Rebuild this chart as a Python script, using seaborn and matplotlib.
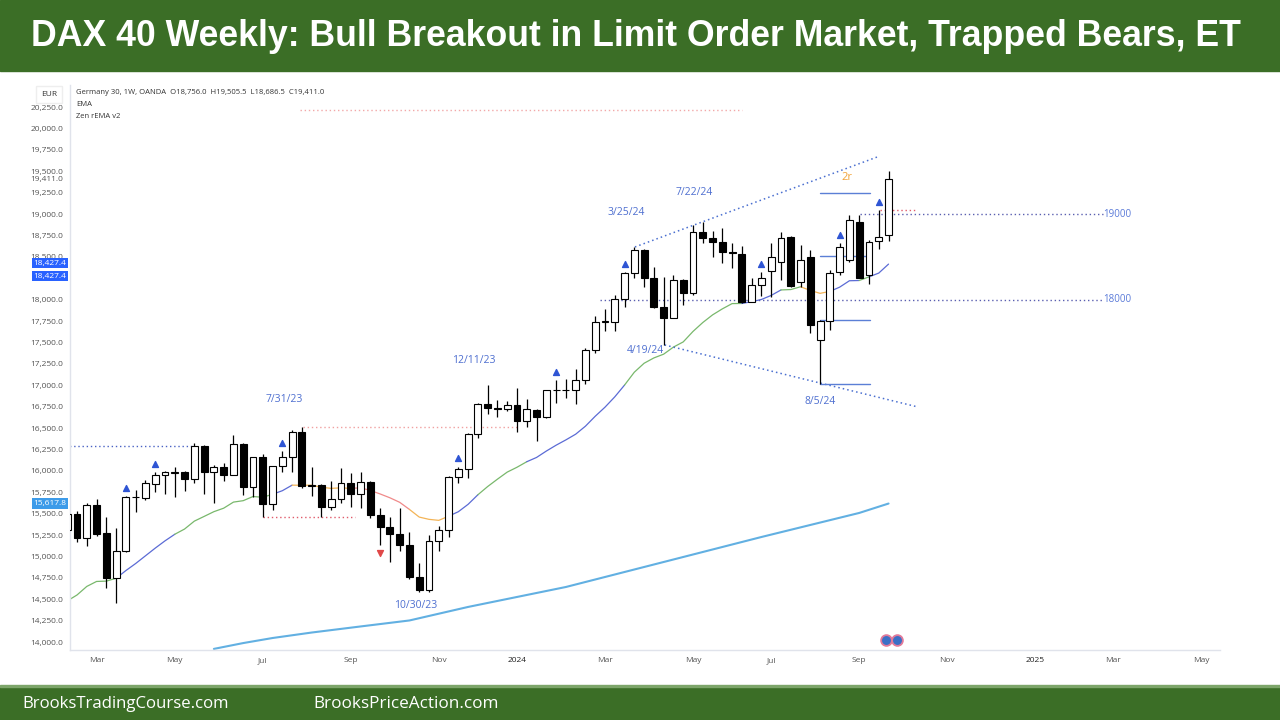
import numpy as np
import pandas as pd
import seaborn as sns
import matplotlib.pyplot as plt
from matplotlib.patches import Rectangle

sns.set_theme(style='white')
plt.rcParams['font.family'] = ['Open Sans', 'DejaVu Sans']

# Germany 30 (OANDA) weekly bars, first bar = week of 2023-02-13
week_start = '2023-02-13'
opens = [15310, 15490, 15210, 15600, 15270, 14750, 15060, 15690, 15680, 15850,
         15950, 15980, 15990, 15900, 16290, 15990, 16050, 15950, 16310, 15810,
         16160, 15610, 16060, 16160, 16450, 15820, 15840, 15580, 15670, 15860,
         15730, 15870, 15480, 15340, 15260, 15130, 14760, 14610, 15180, 15310,
         15930, 16020, 16430, 16780, 16730, 16720, 16770, 16580, 16710, 16630,
         16940, 16940, 16950, 17060, 17410, 17740, 17740, 18010, 18310, 18580,
         18250, 17910, 17780, 18230, 18080, 18790, 18720, 18670, 18560, 18530,
         17970, 18170, 18330, 18440, 18730, 18210, 18500, 17530, 17750, 18320,
         18460, 18910, 18290, 18690, 18756.0]
highs = [15560, 15530, 15620, 15670, 15460, 15330, 15710, 15780, 15890, 15990,
         16000, 16050, 16000, 16330, 16300, 16070, 16090, 16420, 16320, 16160,
         16200, 16060, 16230, 16480, 16510, 16050, 15850, 15880, 16030, 15980,
         15990, 15880, 15570, 15460, 15570, 15290, 14920, 15250, 15360, 15940,
         16050, 16440, 16790, 17000, 16830, 16820, 16970, 16840, 16720, 16950,
         17060, 17070, 17190, 17440, 17810, 17890, 18050, 18320, 18620, 18590,
         18380, 18260, 18290, 18240, 18870, 18910, 18800, 18840, 18660, 18630,
         18250, 18320, 18660, 18790, 18740, 18640, 18580, 17760, 18350, 18660,
         18990, 18990, 18700, 19050, 19505.5]
lows = [15250, 15170, 15120, 15240, 14630, 14460, 15050, 15520, 15660, 15750,
        15730, 15700, 15770, 15860, 15730, 15630, 15880, 15950, 15720, 15700,
        15460, 15540, 15990, 15990, 15800, 15710, 15460, 15540, 15620, 15580,
        15570, 15450, 15130, 14930, 15060, 14740, 14580, 14590, 15060, 15230,
        15860, 15920, 16380, 16660, 16630, 16700, 16450, 16510, 16350, 16620,
        16790, 16850, 16780, 17010, 17380, 17630, 17630, 17910, 18250, 18150,
        17900, 17470, 17780, 17940, 18050, 18660, 18500, 18430, 18370, 17960,
        17970, 18040, 18030, 18230, 18150, 18150, 17610, 17010, 17640, 18290,
        18440, 18250, 18180, 18590, 18686.5]
closes = [15500, 15210, 15600, 15260, 14750, 15060, 15690, 15700, 15860, 15950,
          15990, 15990, 15900, 16290, 15990, 16050, 15950, 16310, 15810, 16160,
          15610, 16060, 16160, 16450, 15820, 15840, 15580, 15670, 15860, 15730,
          15870, 15480, 15340, 15260, 15130, 14760, 14610, 15180, 15310, 15930,
          16020, 16430, 16780, 16730, 16720, 16770, 16580, 16720, 16630, 16940,
          16950, 16950, 17060, 17410, 17740, 17750, 18010, 18310, 18580, 18250,
          17910, 17780, 18230, 18080, 18790, 18720, 18670, 18560, 18540, 17970,
          18170, 18250, 18500, 18720, 18160, 18460, 17700, 17750, 18310, 18620,
          18930, 18250, 18670, 18730, 19411.0]

# 20 EMA value on the first bar
ema_start = 14480
# slow average (light blue), read at a few weeks
long_ma_weeks = [15, 18, 21, 25, 30, 35, 41, 51, 61, 71, 81, 84]
long_ma_values = [13920, 13988, 14047, 14111, 14182, 14252, 14410, 14643, 14935, 15227, 15508, 15617.8]

# colour of the Zen rEMA between bar indices
ema_breaks = [0, 5, 11, 21, 23, 29, 35, 39, 42, 47, 57, 69, 73, 75, 78, 81, 82, 84]
ema_states = ['green', 'blue', 'green', 'blue', 'orange', 'red', 'orange', 'blue', 'green',
              'blue', 'green', 'blue', 'green', 'orange', 'blue', 'green', 'blue']

signal_up = [6, 9, 22, 40, 50, 57, 71, 79, 83]
signal_down = [32]

date_labels = ['7/31/23', '10/30/23', '12/11/23', '3/25/24', '4/19/24', '7/22/24', '8/5/24']
date_label_x = [22.2, 35.6, 41.6, 57.2, 59.1, 64.1, 77.0]
date_label_y = [16839, 14421, 17283, 19012, 17400, 19257, 16804]

level_labels = ['19000', '18000']
level_values = [19000, 18000]

mm_levels = [19245, 18509, 17762, 17014]   # measured move lines from the 8/5 low

ema_colours = {'green': '#79b86c', 'blue': '#5b6bd5', 'orange': '#f3b457', 'red': '#f08a8a'}

# ---- figure ----
fig = plt.figure(figsize=(12.8, 7.2), dpi=100)
ax = fig.add_axes([70 / 1280, 70 / 720, 1150 / 1280, 565 / 720])

df = pd.DataFrame({'open': opens, 'high': highs, 'low': lows, 'close': closes})
df['x'] = np.arange(len(df))
up = df['close'] >= df['open']

ax.vlines(df['x'], df['low'], df['high'], color='black', lw=0.9, zorder=3)
ax.bar(df['x'][up], (df['close'] - df['open'])[up], bottom=df['open'][up], width=0.7,
       color='white', edgecolor='black', linewidth=0.8, zorder=4)
ax.bar(df['x'][~up], (df['open'] - df['close'])[~up], bottom=df['close'][~up], width=0.7,
       color='black', edgecolor='black', linewidth=0.8, zorder=4)

# 20 EMA, coloured by state
ema = pd.Series([ema_start] + closes[1:]).ewm(span=20, adjust=False).mean()
for a, b, state in zip(ema_breaks[:-1], ema_breaks[1:], ema_states):
    seg = ema.iloc[a:b + 1]
    sns.lineplot(x=seg.index, y=seg.values, color=ema_colours[state], lw=0.9, ax=ax, zorder=2)

sns.lineplot(x=long_ma_weeks, y=long_ma_values, color='#62b0e2', lw=1.5, ax=ax, zorder=2)

# signal triangles
ax.scatter(signal_up, df['high'].iloc[signal_up] + 95, marker='^', s=18, color='#2f55d4', zorder=5)
ax.scatter(signal_down, df['low'].iloc[signal_down] - 95, marker='v', s=18, color='#e04848', zorder=5)

dot = (0, (1, 2))
# support / resistance and channel lines
ax.plot([-1, 13], [16290, 16290], color='#4a62c4', lw=1, ls=dot)
ax.plot([24.1, 46], [16512, 16512], color='#f0a0a0', lw=1, ls=dot)
ax.plot([20, 29.4], [15461, 15461], color='#e05a6a', lw=1, ls=dot)
ax.plot([23.8, 69], [20215, 20215], color='#f2a8a8', lw=1, ls=dot)
ax.plot([58.06, 83.1], [18615, 19677], color='#4a6fd0', lw=1.1, ls=dot)
ax.plot([61.1, 87.0], [17470, 16746], color='#4a6fd0', lw=1.1, ls=dot)
ax.plot([81.06, 105.9], [19000, 19000], color='#5a5fb0', lw=1, ls=dot)
ax.plot([54.5, 105.9], [18000, 18000], color='#5a5fb0', lw=1, ls=dot)
ax.plot([83.1, 86.9], [19047, 19047], color='#e05a6a', lw=1, ls=dot)
for lvl in mm_levels:
    ax.plot([77.0, 82.1], [lvl, lvl], color='#5b7fd6', lw=1)

for txt, x, y in zip(date_labels, date_label_x, date_label_y):
    ax.text(x, y, txt, color='#4e6fd0', fontsize=7.5, ha='center', va='center')
for txt, y in zip(level_labels, level_values):
    ax.text(107.4, y, txt, color='#5a7ad8', fontsize=7, ha='center', va='center')
ax.text(79.7, 19432, '2r', color='#f2a33a', fontsize=8, ha='center', va='center')

# event markers near the time axis
ax.scatter([83.7, 84.9], [14023, 14023], s=60, color='#3b6fc6', edgecolors='#e27a9a',
           linewidths=1.3, zorder=6)

# axes (18,250 sits under the EMA price tags, so it is not labelled)
ax.set_xlim(0.284, 117.9)
ax.set_ylim(13907, 20507)
yt = [v for v in np.arange(14000, 20251, 250) if v != 18250] + [19411.0]
ax.set_yticks(yt, [f'{v:,.1f}' for v in yt])
dates = pd.date_range(week_start, periods=120, freq='W-MON')
tick_pos, tick_lab = [], []
for k, d in enumerate(dates):
    if d.day <= 7 and d.month % 2 == 1:
        tick_pos.append(k)
        tick_lab.append(str(d.year) if d.month == 1 else d.strftime('%b'))
ax.set_xticks(tick_pos, tick_lab)
ax.tick_params(axis='both', length=0, labelsize=6, labelcolor='#555555', pad=5)
for lab in ax.get_xticklabels():
    if lab.get_text().isdigit():
        lab.set_color('#222222')
ax.set_xlabel('')
ax.set_ylabel('')
for side in ['top', 'right']:
    ax.spines[side].set_visible(False)
for side in ['left', 'bottom']:
    ax.spines[side].set_color('#e0e3eb')
    ax.spines[side].set_linewidth(1)

# price tags on the scale
tr = ax.get_yaxis_transform()
for y, txt, fc in [(18427.4, '18,427.4', '#2962ff'), (18427.4 - 155, '18,427.4', '#2962ff'),
                   (15617.8, '15,617.8', '#3d9be9')]:
    ax.text(-0.003, y, txt, transform=tr, ha='right', va='center', fontsize=6, color='white',
            clip_on=False, zorder=10,
            bbox=dict(boxstyle='square,pad=0.2', fc=fc, ec='none'))

# header legend
fig.text(49 / 1280, 1 - 94 / 720, 'EUR', fontsize=6, color='#333333', ha='center', va='center',
         bbox=dict(boxstyle='square,pad=0.6', fc='white', ec='#eeeeee'), zorder=10)
fig.text(76 / 1280, 1 - 93 / 720,
         'Germany 30, 1W, OANDA  O18,756.0  H19,505.5  L18,686.5  C19,411.0',
         fontsize=5.5, color='#333333', va='center')
fig.text(76 / 1280, 1 - 104 / 720, 'EMA', fontsize=5.5, color='#333333', va='center')
fig.text(76 / 1280, 1 - 116 / 720, 'Zen rEMA v2', fontsize=5.5, color='#333333', va='center')

# title and footer bands
fig.patches.append(Rectangle((0, 1 - 71 / 720), 1, 71 / 720, transform=fig.transFigure,
                             color='#3b6e26', zorder=0))
fig.patches.append(Rectangle((0, 0), 1, 33 / 720, transform=fig.transFigure,
                             color='#3b6e26', zorder=0))
fig.patches.append(Rectangle((0, 33 / 720), 1, 2 / 720, transform=fig.transFigure,
                             color='#7da56a', zorder=0))

title = fig.text(636 / 1280, 1 - 36 / 720,
                 'DAX 40 Weekly: Bull Breakout in Limit Order Market, Trapped Bears, ET',
                 fontsize=24, color='white', fontweight='bold', ha='center', va='center',
                 family=['Liberation Sans', 'DejaVu Sans'])
foot1 = fig.text(22 / 1280, 16 / 720, 'BrooksTradingCourse.com', fontsize=13, color='white',
                 va='center')
foot2 = fig.text(313 / 1280, 16 / 720, 'BrooksPriceAction.com', fontsize=13, color='white',
                 va='center')

# fit text widths to the banner layout
renderer = fig.canvas.get_renderer()
for t, width in [(title, 1213), (foot1, 206), (foot2, 184)]:
    w = t.get_window_extent(renderer).width
    t.set_fontsize(t.get_fontsize() * width / w)

fig.savefig('out.png', dpi=100)
